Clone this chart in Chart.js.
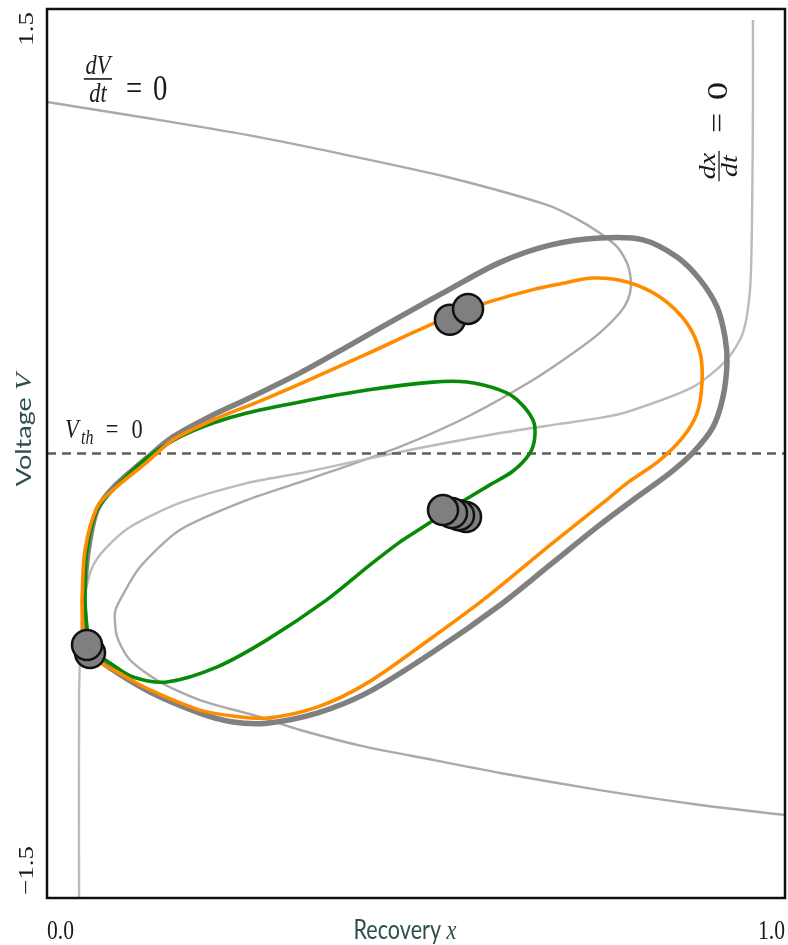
<!DOCTYPE html>
<html>
<head>
<meta charset="utf-8">
<title>Phase plane</title>
<script src="https://cdn.jsdelivr.net/npm/chart.js@4.4.1/dist/chart.umd.min.js"></script>
<style>
  html, body { margin: 0; padding: 0; background: #ffffff; overflow: hidden; }
  #wrap { width: 788px; height: 945px; }
  canvas { display: block; }
</style>
</head>
<body>
<div id="wrap"><canvas id="phase" width="788" height="945"></canvas></div>
<script>
// axis ranges
const X_RANGE = [0, 1];
const V_RANGE = [-1.5, 1.5];
const X_TICKS = ["0.0", "1.0"];
const V_TICKS = ["\u22121.5", "1.5"];

// dV/dt = 0 nullcline (x, V)
const dvNullX = [0, 0.1355, 0.271, 0.4065, 0.542, 0.6775, 0.7154, 0.749, 0.7737, 0.787, 0.7913, 0.787, 0.776, 0.749, 0.713, 0.6585, 0.569, 0.478, 0.3875, 0.352, 0.271, 0.18, 0.126, 0.099, 0.092, 0.095, 0.1125, 0.153, 0.207, 0.2885, 0.343, 0.4335, 0.523, 0.614, 0.749, 0.885, 1.0];
const dvNullV = [1.186, 1.132, 1.075, 1.007, 0.933, 0.839, 0.795, 0.744, 0.694, 0.636, 0.569, 0.518, 0.474, 0.407, 0.339, 0.248, 0.123, 0.022, -0.059, -0.089, -0.157, -0.258, -0.383, -0.494, -0.538, -0.619, -0.697, -0.771, -0.832, -0.889, -0.933, -0.991, -1.034, -1.078, -1.136, -1.186, -1.22];

// dx/dt = 0 nullcline (x, V)
const dxNullX = [0.0434, 0.0434, 0.0447, 0.0474, 0.0528, 0.061, 0.0772, 0.1125, 0.18, 0.271, 0.352, 0.478, 0.614, 0.695, 0.749, 0.786, 0.875, 0.921, 0.943, 0.9526, 0.9553, 0.9566, 0.9566];
const dxNullV = [-1.5, -0.832, -0.697, -0.562, -0.461, -0.386, -0.326, -0.248, -0.167, -0.1, -0.062, 0.005, 0.069, 0.1, 0.12, 0.14, 0.224, 0.316, 0.407, 0.552, 0.788, 1.193, 1.463];

// grey limit cycle
const cycleX = [0.058, 0.0528, 0.05, 0.0528, 0.058, 0.0678, 0.0894, 0.1355, 0.1707, 0.225, 0.275, 0.343, 0.4106, 0.478, 0.546, 0.614, 0.6816, 0.749, 0.8076, 0.8537, 0.885, 0.908, 0.9187, 0.9214, 0.916, 0.9024, 0.875, 0.844, 0.7995, 0.749, 0.6816, 0.614, 0.523, 0.4336, 0.366, 0.298, 0.252, 0.207, 0.1396, 0.0854, 0.058];
const cycleV = [-0.67, -0.596, -0.494, -0.393, -0.292, -0.191, -0.116, -0.015, 0.056, 0.13, 0.188, 0.272, 0.366, 0.461, 0.555, 0.645, 0.703, 0.727, 0.721, 0.663, 0.586, 0.494, 0.393, 0.305, 0.191, 0.089, 0.002, -0.066, -0.147, -0.241, -0.376, -0.511, -0.67, -0.808, -0.876, -0.91, -0.906, -0.876, -0.805, -0.724, -0.67];

// orange trajectory
const orangeX = [0.0474, 0.0488, 0.0556, 0.0718, 0.0949, 0.1396, 0.207, 0.252, 0.298, 0.366, 0.4336, 0.523, 0.591, 0.6816, 0.763, 0.786, 0.8306, 0.862, 0.881, 0.8875, 0.885, 0.867, 0.8306, 0.786, 0.74, 0.695, 0.6585, 0.591, 0.523, 0.4336, 0.343, 0.2886, 0.225, 0.1707, 0.1355, 0.0894, 0.0678, 0.0515, 0.0474];
const orangeV = [-0.494, -0.596, -0.663, -0.704, -0.737, -0.798, -0.866, -0.886, -0.893, -0.856, -0.775, -0.619, -0.494, -0.309, -0.147, -0.1, -0.022, 0.056, 0.137, 0.238, 0.339, 0.44, 0.528, 0.579, 0.592, 0.572, 0.553, 0.505, 0.438, 0.336, 0.235, 0.177, 0.113, 0.046, -0.029, -0.123, -0.181, -0.326, -0.494];

// green trajectory
const greenX = [0.0556, 0.0515, 0.0542, 0.0678, 0.0894, 0.1355, 0.18, 0.225, 0.271, 0.343, 0.4336, 0.523, 0.569, 0.614, 0.637, 0.6585, 0.661, 0.6545, 0.631, 0.6, 0.566, 0.5366, 0.5054, 0.478, 0.4377, 0.379, 0.298, 0.23, 0.1626, 0.1165, 0.0854, 0.065, 0.0556];
const greenV = [-0.629, -0.494, -0.326, -0.191, -0.123, -0.015, 0.056, 0.103, 0.137, 0.174, 0.214, 0.241, 0.241, 0.214, 0.181, 0.113, 0.056, 0.002, -0.06, -0.106, -0.157, -0.204, -0.255, -0.299, -0.376, -0.494, -0.629, -0.721, -0.771, -0.754, -0.707, -0.67, -0.629];

// neuron states (drawn in this order, last on top)
const stateX = [0.0583, 0.0542, 0.546, 0.5705, 0.5678, 0.5583, 0.5488, 0.5366];
const stateV = [-0.673, -0.646, 0.451, 0.488, -0.214, -0.208, -0.201, -0.191];

const LABEL_COLOR = "#2f4f4f";
const TEXT_COLOR = "#1a1a1a";
const SERIF = "'Liberation Serif', 'DejaVu Serif', serif";
const SANS = "Lato, 'Open Sans', sans-serif";
// the original figure is a bit narrow: text is squeezed sideways
const SQUASH = 0.8;

function toPoints(xs, vs) {
  return xs.map((x, i) => ({ x: x, y: vs[i] }));
}

function lineSet(data, color, width, order, tension) {
  return {
    data: data,
    showLine: true,
    borderColor: color,
    borderWidth: width,
    pointRadius: 0,
    tension: tension,
    fill: false,
    order: order,
  };
}

// text runs laid out one after the other, at (x, y) in screen px
function drawRuns(ctx, runs, x, y, align, rotated) {
  ctx.save();
  ctx.translate(x, y);
  ctx.scale(SQUASH, 1);
  if (rotated) ctx.rotate(-Math.PI / 2);
  ctx.textAlign = "left";
  ctx.textBaseline = "alphabetic";
  let total = 0;
  runs.forEach((r) => {
    ctx.font = r.font;
    total += ctx.measureText(r.t).width;
  });
  let pos = align === "center" ? -total / 2 : align === "right" ? -total : 0;
  runs.forEach((r) => {
    ctx.font = r.font;
    ctx.fillText(r.t, pos, r.dy || 0);
    pos += ctx.measureText(r.t).width;
  });
  ctx.restore();
}

// "num/den = 0" with the bar centred on (x, y); eqAt, zeroAt = offsets along the text
function drawFracEq(ctx, num, den, x, y, rotated, opts) {
  ctx.save();
  ctx.translate(x, y);
  ctx.scale(SQUASH, 1);
  if (rotated) ctx.rotate(-Math.PI / 2);
  ctx.textBaseline = "alphabetic";
  ctx.textAlign = "center";
  ctx.font = `italic ${opts.fracSize}px ${SERIF}`;
  const w = Math.max(ctx.measureText(num).width, ctx.measureText(den).width) + 4;
  ctx.fillText(num, 0, -5);
  ctx.fillText(den, 0, opts.fracSize * 0.7 + 3);
  ctx.fillRect(-w / 2, -0.8, w, 1.6);
  ctx.textAlign = "left";
  ctx.font = `${opts.eqSize}px ${SERIF}`;
  ctx.fillText("=", opts.eqAt, opts.base);
  ctx.fillText("0", opts.zeroAt, opts.base);
  ctx.restore();
}

const overlay = {
  id: "overlay",
  afterDraw(chart) {
    const ctx = chart.ctx;
    const xs = chart.scales.x;
    const ys = chart.scales.y;
    const area = chart.chartArea;

    ctx.save();
    ctx.fillStyle = TEXT_COLOR;

    // frame
    ctx.strokeStyle = "#111";
    ctx.lineWidth = 2.5;
    ctx.strokeRect(area.left, area.top, area.right - area.left, area.bottom - area.top);

    // tick labels at the ends, aligned inward
    const tickFont = `27px ${SERIF}`;
    drawRuns(ctx, [{ t: X_TICKS[0], font: tickFont }], xs.getPixelForValue(X_RANGE[0]), area.bottom + 41, "left", false);
    drawRuns(ctx, [{ t: X_TICKS[1], font: tickFont }], xs.getPixelForValue(X_RANGE[1]), area.bottom + 41, "right", false);
    drawRuns(ctx, [{ t: V_TICKS[0], font: tickFont }], area.left - 14, ys.getPixelForValue(V_RANGE[0]) - 3, "left", true);
    drawRuns(ctx, [{ t: V_TICKS[1], font: tickFont }], area.left - 14, ys.getPixelForValue(V_RANGE[1]) + 3, "right", true);

    // axis titles
    ctx.fillStyle = LABEL_COLOR;
    drawRuns(ctx, [
      { t: "Recovery ", font: `27px ${SANS}` },
      { t: "x", font: `italic 28px ${SERIF}` },
    ], (area.left + area.right) / 2 - 11, area.bottom + 41, "center", false);
    drawRuns(ctx, [
      { t: "Voltage ", font: `27px ${SANS}` },
      { t: "V", font: `italic 28px ${SERIF}` },
    ], area.left - 16, ys.getPixelForValue(0.08), "center", true);

    // nullcline labels
    ctx.fillStyle = TEXT_COLOR;
    drawFracEq(ctx, "dV", "dt", xs.getPixelForValue(0.069), ys.getPixelForValue(1.264), false,
      { fracSize: 28, eqSize: 36, eqAt: 35, zeroAt: 69, base: 21 });
    drawFracEq(ctx, "dx", "dt", xs.getPixelForValue(0.9106), ys.getPixelForValue(0.97), true,
      { fracSize: 28, eqSize: 36, eqAt: 33, zeroAt: 66, base: 10 });

    // threshold label
    const vx = xs.getPixelForValue(0.0244);
    const vy = ys.getPixelForValue(0.052);
    ctx.save();
    ctx.translate(vx, vy);
    ctx.scale(SQUASH, 1);
    ctx.textAlign = "left";
    ctx.textBaseline = "alphabetic";
    ctx.font = `italic 28px ${SERIF}`;
    ctx.fillText("V", 0, 0);
    ctx.font = `italic 20px ${SERIF}`;
    ctx.fillText("th", 20, 6);
    ctx.font = `28px ${SERIF}`;
    ctx.fillText("=", 51, 0);
    ctx.fillText("0", 83, 0);
    ctx.restore();

    ctx.restore();
  },
};

new Chart(document.getElementById("phase"), {
  type: "scatter",
  data: {
    datasets: [
      lineSet(toPoints(dvNullX, dvNullV), "#aaaaaa", 2.4, 9, 0.25),
      lineSet(toPoints(dxNullX, dxNullV), "#bbbbbb", 2.4, 8, 0.25),
      {
        data: toPoints(X_RANGE, [0, 0]),
        showLine: true,
        borderColor: "#5e5e5e",
        borderWidth: 2.6,
        borderDash: [9, 6],
        pointRadius: 0,
        order: 7,
      },
      lineSet(toPoints(cycleX, cycleV), "#808080", 5.5, 6, 0.3),
      lineSet(toPoints(greenX, greenV), "#078a07", 3.6, 5, 0.3),
      lineSet(toPoints(orangeX, orangeV), "#ff8c00", 3.6, 4, 0.3),
      {
        data: toPoints(stateX, stateV),
        showLine: false,
        pointRadius: 15,
        pointBackgroundColor: "#7f7f7f",
        pointBorderColor: "#111111",
        pointBorderWidth: 2.5,
        clip: false,
        order: 1,
      },
    ],
  },
  options: {
    responsive: false,
    animation: false,
    devicePixelRatio: 1,
    layout: { autoPadding: false, padding: { left: 47, right: 3, top: 9, bottom: 47 } },
    plugins: { legend: { display: false }, tooltip: { enabled: false } },
    scales: {
      x: { type: "linear", min: X_RANGE[0], max: X_RANGE[1], display: false },
      y: { type: "linear", min: V_RANGE[0], max: V_RANGE[1], display: false },
    },
  },
  plugins: [overlay],
});
</script>
</body>
</html>
